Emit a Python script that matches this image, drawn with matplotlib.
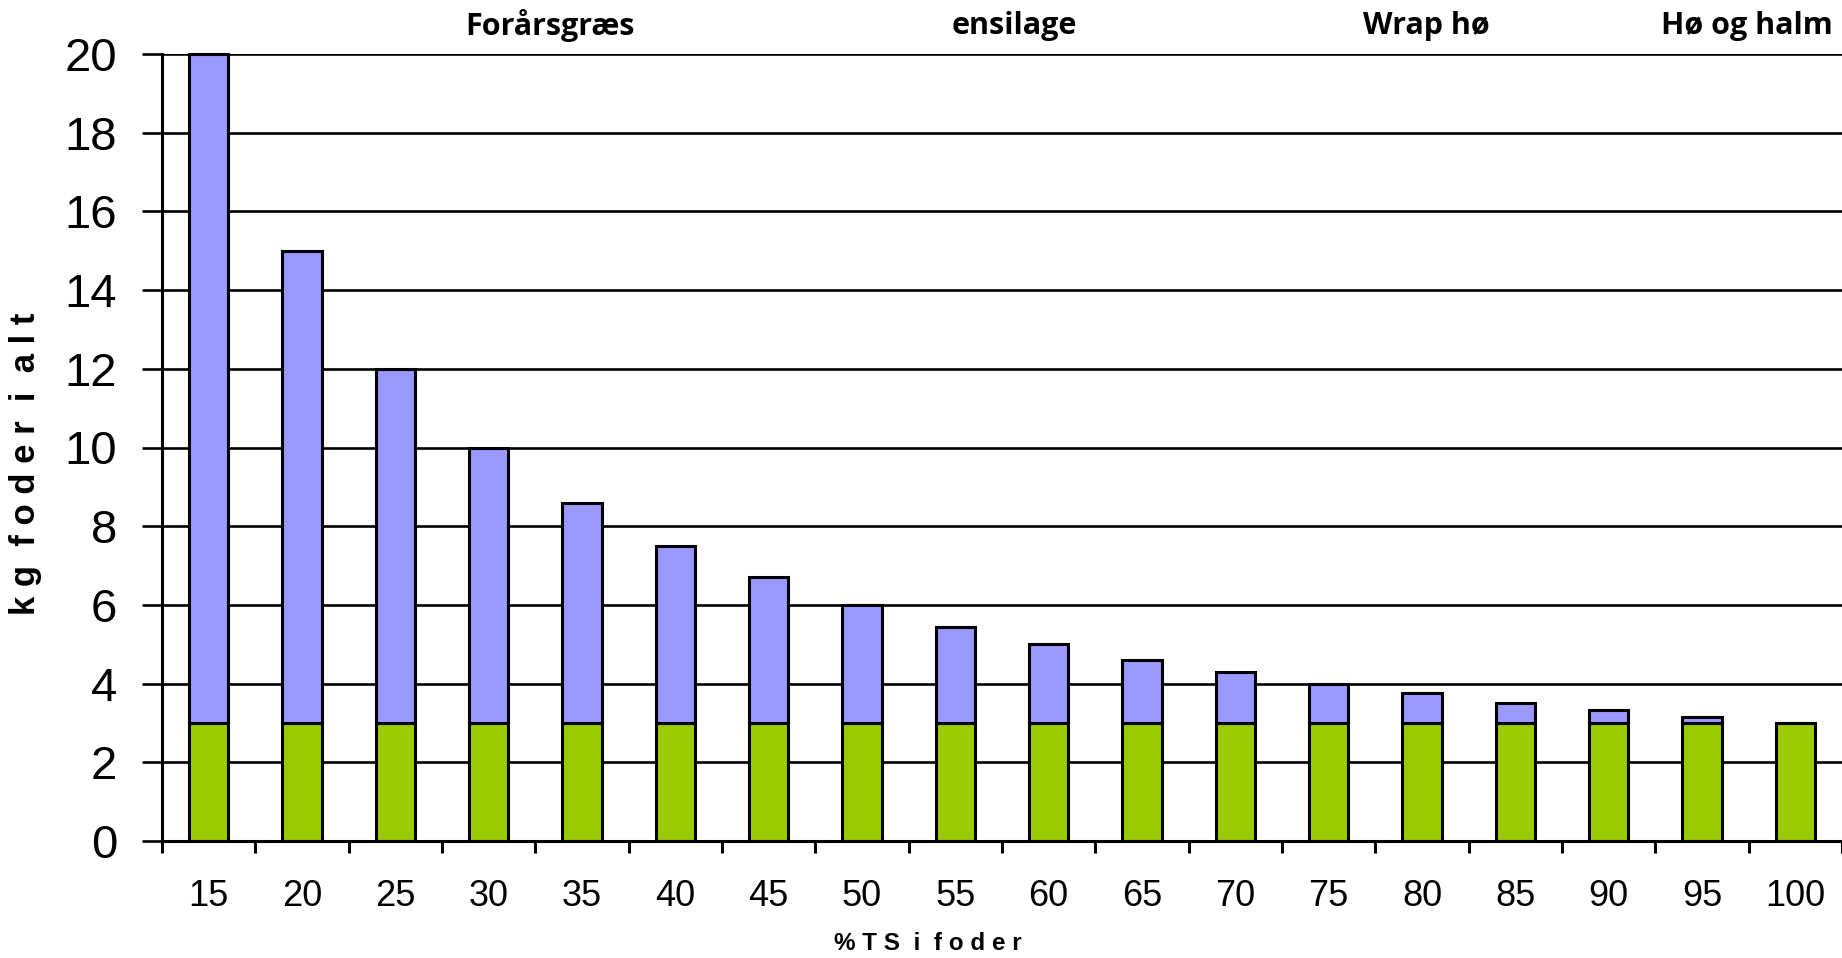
import numpy as np
import matplotlib.pyplot as plt

# data
ts_pct = ['15', '20', '25', '30', '35', '40', '45', '50', '55', '60',
          '65', '70', '75', '80', '85', '90', '95', '100']
dry_kg = [3, 3, 3, 3, 3, 3, 3, 3, 3, 3, 3, 3, 3, 3, 3, 3, 3, 3]
water_kg = [17, 12, 9, 7, 5.6, 4.5, 3.7, 3, 2.45, 2, 1.6, 1.3, 1, 0.75, 0.5, 0.33, 0.15, 0]
yticks = [0, 2, 4, 6, 8, 10, 12, 14, 16, 18, 20]
feed_types = ['Forårsgræs', 'ensilage', 'Wrap hø', 'Hø og halm']
feed_x = [550, 1014, 1426, 1747]  # pixel centres of the headings

W, H = 1842, 958
fig = plt.figure(figsize=(W / 100, H / 100), dpi=100)
ax = fig.add_axes([162 / W, (H - 841) / H, (W - 162) / W, (841 - 54) / H])

x = np.arange(len(ts_pct))
ax.bar(x, dry_kg, width=0.42, color='#99CC00', edgecolor='black', linewidth=2.2, zorder=3)
ax.bar(x, water_kg, bottom=dry_kg, width=0.42, color='#9999FF', edgecolor='black',
       linewidth=2.2, zorder=3, clip_on=False)

ax.set_xlim(-0.5, len(ts_pct) - 0.5)
ax.set_ylim(0, 20)
ax.set_yticks(yticks)
ax.set_yticklabels([str(v) for v in yticks], fontsize=34, family='Liberation Sans')
ax.yaxis.grid(True, color='black', linewidth=1.9)
ax.set_axisbelow(True)
ax.tick_params(axis='y', length=14.4, width=1.9, pad=18, colors='black')

ax.set_xticks(x)
ax.set_xticklabels(ts_pct, fontsize=26, family='Liberation Sans')
ax.set_xticks(np.arange(-0.5, len(ts_pct)), minor=True)
ax.tick_params(axis='x', which='major', length=0, pad=27)
ax.tick_params(axis='x', which='minor', length=8.6, width=2.2)

for s in ['top', 'right']:
    ax.spines[s].set_visible(False)
for s in ['left', 'bottom']:
    ax.spines[s].set_linewidth(2.2)
    ax.spines[s].set_zorder(4)

fig.text(928 / W, 1 - 943 / H, '% T S  i  f o d e r', ha='center', va='center',
         fontsize=17.5, fontweight='bold', family='Liberation Sans')
fig.text(26 / W, 1 - 464 / H, 'k g  f o d e r  i  a l t', ha='center', va='center',
         rotation=90, fontsize=25, fontweight='heavy', family='Liberation Sans')

for name, px in zip(feed_types, feed_x):
    fig.text(px / W, 1 - 26 / H, name, ha='center', va='center',
             fontsize=22, fontweight='bold', family='Open Sans')

fig.savefig('out.png', dpi=100)
